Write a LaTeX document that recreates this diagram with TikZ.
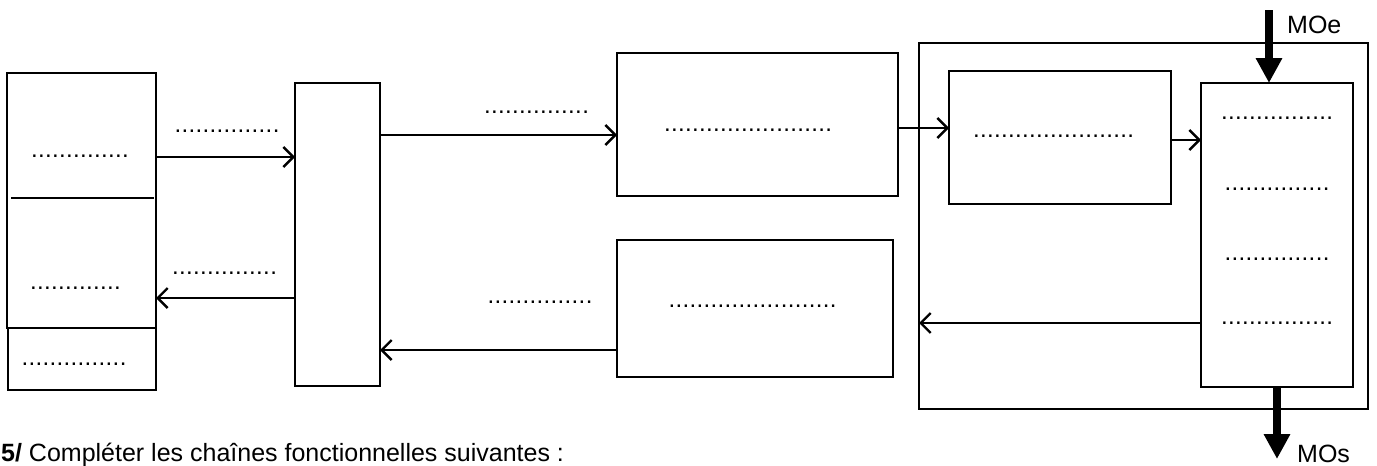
\documentclass[tikz,border=0pt]{standalone}
\usepackage{fontspec}
\setmainfont{Liberation Sans}
\newfontfamily\dotfont[LetterSpace=1.4]{Liberation Sans}
\usetikzlibrary{arrows.meta}
\begin{document}
\begin{tikzpicture}[x=1pt,y=-1pt,
  box/.style={draw,line width=2.6pt,inner sep=0pt,outer sep=0pt},
  thinbox/.style={draw,line width=1.8pt,inner sep=0pt,outer sep=0pt},
  dotlab/.style={anchor=base,inner sep=0pt,font=\dotfont\fontsize{24}{28}\selectfont},
  conn/.style={line width=2.4pt,-{Straight Barb[length=10pt,width=20pt,line width=2.4pt]}},
  bigarrow/.style={line width=8pt,-{Triangle[length=25pt,width=25pt]}},
  lab/.style={anchor=base west,inner sep=0pt,font=\fontsize{25}{29}\selectfont}]
\useasboundingbox (0,0) rectangle (1377,466);

% boxes
\node[thinbox,minimum width=148pt,minimum height=62pt] (Ls) at (82,359) {};
\node[box,minimum width=149pt,minimum height=255pt] (L) at (81.5,200.5) {};
\node[box,minimum width=85pt,minimum height=303pt] (B2) at (337.5,234.5) {};
\node[box,minimum width=281pt,minimum height=143pt] (B3) at (757.5,124.5) {};
\node[box,minimum width=276pt,minimum height=137pt] (B4) at (755,308.5) {};
\node[box,minimum width=449pt,minimum height=366pt] (O) at (1143.5,226) {};
\node[box,minimum width=222pt,minimum height=133pt] (B5) at (1060,137.5) {};
\node[box,minimum width=152pt,minimum height=304pt] (B6) at (1277,235) {};

% divider in the left box
\coordinate (d1) at (11,198);
\coordinate (d2) at (154,198);
\draw[line width=2.2pt] (d1) -- (d2);

% dotted texts
\node[dotlab] (t1) at (80,157.3) {..............};
\node[dotlab] (t2) at (75.5,289.3) {.............};
\node[dotlab] (t3) at (74,365.3) {...............};
\node[dotlab] (t4) at (227,132.3) {...............};
\node[dotlab] (t5) at (224.5,274.3) {...............};
\node[dotlab] (t6) at (536.5,113.3) {...............};
\node[dotlab] (t7) at (748,131.3) {........................};
\node[dotlab] (t8) at (1053.5,137.3) {.......................};
\node[dotlab] (t9) at (1277,119.3) {................};
\node[dotlab] (t10) at (1277,190.3) {...............};
\node[dotlab] (t11) at (1277,260.3) {...............};
\node[dotlab] (t12) at (1277,324.3) {................};
\node[dotlab] (t13) at (752.5,307.3) {........................};
\node[dotlab] (t14) at (540,303.3) {...............};

% connector heights
\coordinate (y1) at (0,157);
\coordinate (y2) at (0,298);
\coordinate (y3) at (0,135);
\coordinate (y4) at (0,128);
\coordinate (y5) at (0,140);
\coordinate (y6) at (0,323);
\coordinate (y7) at (0,350);

\draw[conn] (L.east |- y1) -- (B2.west |- y1);
\draw[conn] (B2.west |- y2) -- (L.east |- y2);
\draw[conn] (B2.east |- y3) -- (B3.west |- y3);
\draw[conn] (B3.east |- y4) -- (B5.west |- y4);
\draw[conn] (B5.east |- y5) -- (B6.west |- y5);
\draw[conn] (B6.west |- y6) -- (O.west |- y6);
\draw[conn] (B4.west |- y7) -- (B2.east |- y7);

% MOe / MOs
\coordinate (mi) at (1269,10);
\coordinate (mo) at (1277,459);
\draw[bigarrow] (mi) -- (mi |- B6.north);
\draw[bigarrow] (mo |- B6.south) -- (mo);
\node[lab] (moe) at (1287,33) {MOe};
\node[lab] (mos) at (1297,462) {MOs};

% instruction text
\node[anchor=base west,inner sep=0pt,font=\fontsize{25}{29}\selectfont] (instr) at (1,461)
  {\textbf{5/} Compléter les chaînes fonctionnelles suivantes :};
\end{tikzpicture}
\end{document}
